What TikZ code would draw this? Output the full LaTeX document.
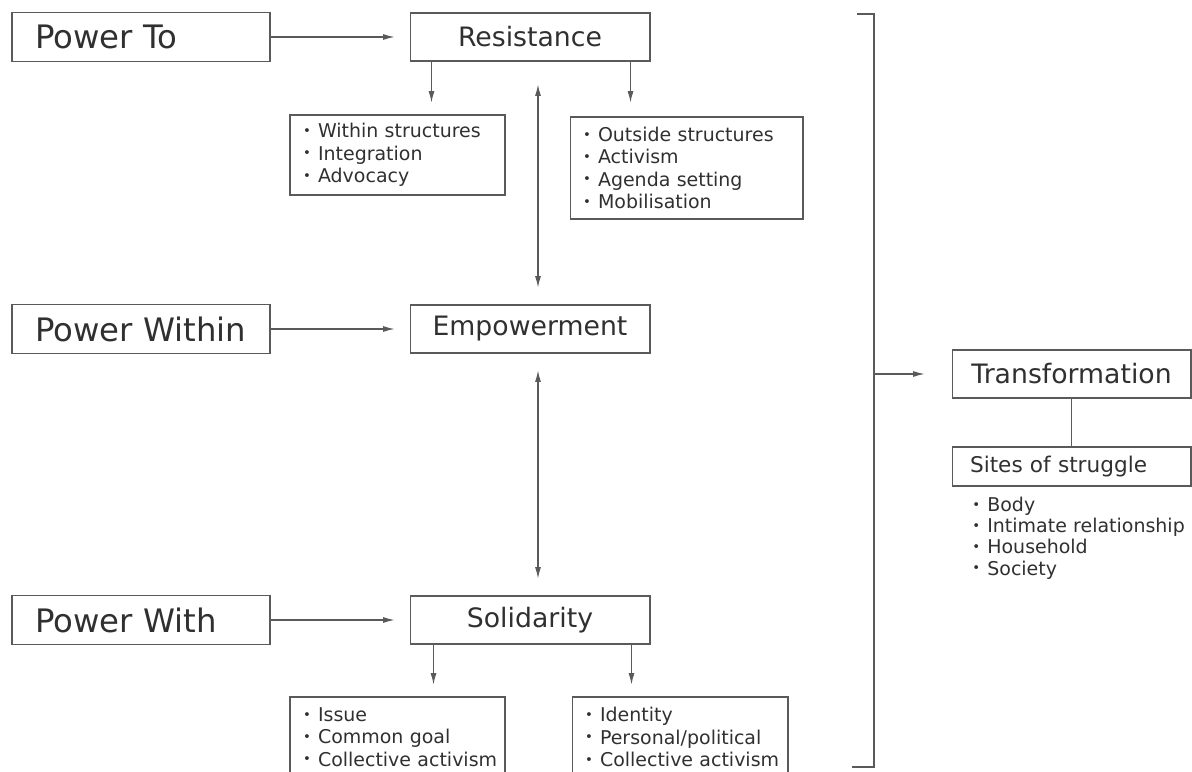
\documentclass[tikz,border=0pt]{standalone}
\usepackage{fontspec}
\setmainfont{DejaVu Sans}
\usetikzlibrary{arrows.meta, positioning, calc}

\definecolor{boxline}{HTML}{5A5A5A}
\definecolor{boxtext}{HTML}{303030}

% small bullet for the lists, one item per line
\newcommand{\lbul}{\makebox[0.3cm][l]{\raisebox{0.12em}{\scalebox{0.7}{•}}}}
\newcommand{\litem}[1]{\mbox{\lbul #1}}

\tikzset{
    powerbox/.style={draw=boxline, line width=0.6pt, text=boxtext, minimum height=0.98cm,
        inner xsep=0.46cm, text width=4.24cm, align=left, font=\fontsize{18.4}{21}\selectfont},
    midbox/.style={draw=boxline, line width=0.6pt, text=boxtext, minimum width=4.8cm,
        minimum height=0.96cm, font=\fontsize{15.2}{17}\selectfont},
    lstbox/.style={draw=boxline, line width=0.6pt, text=boxtext, inner xsep=0.26cm,
        align=left, text width=#1, font=\fontsize{10.8}{12.7}\selectfont},
    arr/.style={draw=boxline, line width=0.6pt, -{Latex[length=6.5pt,width=3.4pt]}},
    dbl/.style={draw=boxline, line width=0.6pt, {Latex[length=6.5pt,width=3.4pt]}-{Latex[length=6.5pt,width=3.4pt]}},
}

\begin{document}
\begin{tikzpicture}[x=0.02cm, y=-0.02cm]
    \clip (0,0) rectangle (1192,771);

    % left column
    \node[powerbox] (pto) at (141,37) {Power To};
    \node[powerbox] (pwi) at (141,329) {Power Within};
    \node[powerbox] (pwt) at (141,620) {Power With};

    % middle column
    \node[midbox] (res) at (530,37) {Resistance};
    \node[midbox] (emp) at (530,329) {Empowerment};
    \node[midbox] (sol) at (530,620) {Solidarity};

    % lists
    \node[lstbox=3.78cm, minimum height=1.6cm] (lwi) at (397.5,155)
        {\litem{Within structures}\\ \litem{Integration}\\ \litem{Advocacy}};
    \node[lstbox=4.14cm, minimum height=2.04cm] (lou) at (686.5,168)
        {\litem{Outside structures}\\ \litem{Activism}\\ \litem{Agenda setting}\\ \litem{Mobilisation}};
    \node[lstbox=3.78cm, minimum height=1.6cm] (liss) at (397.5,737)
        {\litem{Issue}\\ \litem{Common goal}\\ \litem{Collective activism}};
    \node[lstbox=3.80cm, minimum height=1.6cm] (lid) at (680,737)
        {\litem{Identity}\\ \litem{Personal/political}\\ \litem{Collective activism}};

    % right side
    \node[midbox, minimum width=4.78cm] (trf) at (1071.5,374) {Transformation};
    \node[draw=boxline, line width=0.6pt, text=boxtext, minimum height=0.78cm, inner xsep=0.36cm,
        text width=4.06cm, align=left, font=\fontsize{12.3}{14}\selectfont] (sit) at (1071.5,466.5)
        {Sites of struggle};
    \node[text=boxtext, inner xsep=0.26cm, align=left, text width=4.4cm, anchor=west,
        font=\fontsize{10.8}{12.1}\selectfont] (lsit) at (959,538)
        {\litem{Body}\\ \litem{Intimate relationship}\\ \litem{Household}\\ \litem{Society}};

    % connectors
    \draw[arr, shorten >=0.3cm] (pto) -- (res);
    \draw[arr, shorten >=0.3cm] (pwi) -- (emp);
    \draw[arr, shorten >=0.3cm] (pwt) -- (sol);

    \draw[arr, shorten >=0.24cm] ([xshift=0.44cm]res.south west) -- ([xshift=0.44cm]res.south west |- lwi.north);
    \draw[arr, shorten >=0.28cm] ([xshift=-0.4cm]res.south east) -- ([xshift=-0.4cm]res.south east |- lou.north);
    \draw[arr, shorten >=0.24cm] ([xshift=0.48cm]sol.south west) -- ([xshift=0.48cm]sol.south west |- liss.north);
    \draw[arr, shorten >=0.24cm] ([xshift=-0.38cm]sol.south east) -- ([xshift=-0.38cm]sol.south east |- lid.north);

    \draw[dbl, shorten <=0.46cm, shorten >=0.34cm] ([xshift=0.16cm]res.south) -- ([xshift=0.16cm]emp.north);
    \draw[dbl, shorten <=0.34cm, shorten >=0.34cm] ([xshift=0.16cm]emp.south) -- ([xshift=0.16cm]sol.north);

    % bracket
    \draw[boxline, line width=0.6pt] (857,14) -- (874,14) -- (874,767) -- (852,767);
    \coordinate (brk) at (874,374);
    \draw[arr, shorten >=0.54cm] (brk) -- (trf);
    \draw[boxline, line width=0.6pt] (trf) -- (sit);
\end{tikzpicture}
\end{document}
